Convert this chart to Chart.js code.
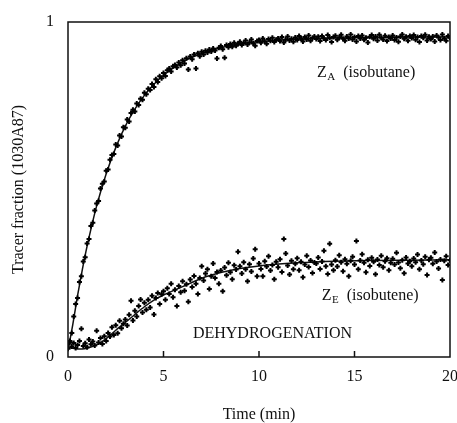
<!DOCTYPE html>
<html>
<head>
<meta charset="utf-8">
<script src="https://cdn.jsdelivr.net/npm/chart.js@4.4.0/dist/chart.umd.min.js"></script>
<style>
  body { margin: 0; background: #fff; }
</style>
</head>
<body>
<canvas id="chart" width="457" height="423"></canvas>
<script>
// sample times (min)
const time = [
  0, 0.1, 0.2, 0.3, 0.4, 0.5, 0.6, 0.7, 0.8, 0.9,
  1, 1.1, 1.2, 1.3, 1.4, 1.5, 1.6, 1.7, 1.8, 1.9,
  2, 2.1, 2.2, 2.3, 2.4, 2.5, 2.6, 2.7, 2.8, 2.9,
  3, 3.1, 3.2, 3.3, 3.4, 3.5, 3.6, 3.7, 3.8, 3.9,
  4, 4.1, 4.2, 4.3, 4.4, 4.5, 4.6, 4.7, 4.8, 4.9,
  5, 5.1, 5.2, 5.3, 5.4, 5.5, 5.6, 5.7, 5.8, 5.9,
  6, 6.1, 6.2, 6.3, 6.4, 6.5, 6.6, 6.7, 6.8, 6.9,
  7, 7.1, 7.2, 7.3, 7.4, 7.5, 7.6, 7.7, 7.8, 7.9,
  8, 8.1, 8.2, 8.3, 8.4, 8.5, 8.6, 8.7, 8.8, 8.9,
  9, 9.1, 9.2, 9.3, 9.4, 9.5, 9.6, 9.7, 9.8, 9.9,
  10, 10.1, 10.2, 10.3, 10.4, 10.5, 10.6, 10.7, 10.8, 10.9,
  11, 11.1, 11.2, 11.3, 11.4, 11.5, 11.6, 11.7, 11.8, 11.9,
  12, 12.1, 12.2, 12.3, 12.4, 12.5, 12.6, 12.7, 12.8, 12.9,
  13, 13.1, 13.2, 13.3, 13.4, 13.5, 13.6, 13.7, 13.8, 13.9,
  14, 14.1, 14.2, 14.3, 14.4, 14.5, 14.6, 14.7, 14.8, 14.9,
  15, 15.1, 15.2, 15.3, 15.4, 15.5, 15.6, 15.7, 15.8, 15.9,
  16, 16.1, 16.2, 16.3, 16.4, 16.5, 16.6, 16.7, 16.8, 16.9,
  17, 17.1, 17.2, 17.3, 17.4, 17.5, 17.6, 17.7, 17.8, 17.9,
  18, 18.1, 18.2, 18.3, 18.4, 18.5, 18.6, 18.7, 18.8, 18.9,
  19, 19.1, 19.2, 19.3, 19.4, 19.5, 19.6, 19.7, 19.8, 19.9,
  20
];

// Z_A (isobutane) measured points
const zaPoints = [
  0.025, 0.048, 0.072, 0.121, 0.158, 0.176, 0.224, 0.241, 0.285, 0.298,
  0.339, 0.352, 0.391, 0.401, 0.437, 0.458, 0.466, 0.503, 0.517, 0.524,
  0.556, 0.560, 0.589, 0.603, 0.606, 0.634, 0.631, 0.661, 0.658, 0.686,
  0.684, 0.709, 0.703, 0.728, 0.738, 0.733, 0.757, 0.752, 0.771, 0.768,
  0.789, 0.784, 0.801, 0.797, 0.815, 0.806, 0.829, 0.821, 0.838, 0.832,
  0.848, 0.839, 0.856, 0.861, 0.852, 0.868, 0.872, 0.864, 0.879, 0.871,
  0.886, 0.876, 0.892, 0.858, 0.897, 0.889, 0.903, 0.861, 0.907, 0.898,
  0.911, 0.903, 0.914, 0.909, 0.918, 0.912, 0.921, 0.915, 0.891, 0.923,
  0.928, 0.919, 0.893, 0.931, 0.925, 0.934, 0.926, 0.938, 0.929, 0.935,
  0.941, 0.931, 0.937, 0.945, 0.933, 0.939, 0.948, 0.936, 0.929, 0.943,
  0.946, 0.938, 0.951, 0.942, 0.935, 0.949, 0.944, 0.953, 0.940, 0.947,
  0.951, 0.943, 0.955, 0.939, 0.948, 0.957, 0.945, 0.950, 0.941, 0.954,
  0.946, 0.958, 0.951, 0.942, 0.955, 0.948, 0.960, 0.944, 0.952, 0.957,
  0.949, 0.956, 0.943, 0.958, 0.951, 0.946, 0.961, 0.953, 0.940, 0.955,
  0.959, 0.947, 0.954, 0.962, 0.950, 0.944, 0.957, 0.951, 0.963, 0.948,
  0.955, 0.942, 0.958, 0.951, 0.960, 0.947, 0.953, 0.939, 0.956, 0.961,
  0.950, 0.957, 0.945, 0.962, 0.953, 0.948, 0.959, 0.943, 0.955, 0.951,
  0.960, 0.946, 0.954, 0.941, 0.957, 0.963, 0.950, 0.956, 0.944, 0.958,
  0.952, 0.961, 0.947, 0.955, 0.940, 0.958, 0.953, 0.962, 0.945, 0.956,
  0.949, 0.957, 0.942, 0.960, 0.954, 0.946, 0.963, 0.951, 0.944, 0.958,
  0.953
];

// Z_E (isobutene) measured points
const zePoints = [
  0.038, 0.045, 0.031, 0.042, 0.027, 0.036, 0.048, 0.084, 0.033, 0.041,
  0.029, 0.052, 0.038, 0.046, 0.034, 0.078, 0.043, 0.057, 0.039, 0.062,
  0.048, 0.072, 0.061, 0.089, 0.066, 0.095, 0.071, 0.108, 0.086, 0.099,
  0.112, 0.094, 0.126, 0.168, 0.109, 0.138, 0.121, 0.152, 0.172, 0.133,
  0.162, 0.141, 0.171, 0.148, 0.183, 0.127, 0.176, 0.191, 0.158, 0.187,
  0.196, 0.171, 0.205, 0.188, 0.219, 0.178, 0.201, 0.152, 0.212, 0.193,
  0.226, 0.198, 0.217, 0.165, 0.231, 0.209, 0.242, 0.219, 0.188, 0.236,
  0.271, 0.228, 0.249, 0.262, 0.203, 0.241, 0.279, 0.236, 0.254, 0.219,
  0.258, 0.196, 0.267, 0.244, 0.281, 0.253, 0.232, 0.274, 0.261, 0.314,
  0.271, 0.249, 0.283, 0.262, 0.226, 0.277, 0.255, 0.294, 0.322, 0.241,
  0.279, 0.263, 0.241, 0.286, 0.270, 0.301, 0.258, 0.275, 0.232, 0.284,
  0.268, 0.292, 0.254, 0.352, 0.309, 0.273, 0.246, 0.287, 0.262, 0.278,
  0.295, 0.259, 0.284, 0.238, 0.276, 0.302, 0.269, 0.288, 0.251, 0.282,
  0.279, 0.297, 0.263, 0.285, 0.317, 0.271, 0.248, 0.338, 0.276, 0.259,
  0.289, 0.270, 0.304, 0.283, 0.256, 0.292, 0.278, 0.241, 0.287, 0.299,
  0.276, 0.346, 0.262, 0.288, 0.307, 0.281, 0.253, 0.290, 0.272, 0.296,
  0.284, 0.247, 0.291, 0.275, 0.302, 0.268, 0.286, 0.295, 0.259, 0.281,
  0.293, 0.276, 0.311, 0.282, 0.265, 0.289, 0.250, 0.297, 0.279, 0.286,
  0.271, 0.294, 0.283, 0.306, 0.262, 0.288, 0.277, 0.299, 0.245, 0.290,
  0.296, 0.278, 0.312, 0.285, 0.264, 0.291, 0.230, 0.287, 0.301, 0.275,
  0.289
];

// fitted model curves
const fitTime = [0, 0.25, 0.5, 0.75, 1, 1.5, 2, 2.5, 3, 3.5, 4, 4.5, 5, 6, 7, 8, 9, 10, 12, 14, 16, 18, 20];
const zaFit = [0.02, 0.097, 0.183, 0.261, 0.331, 0.451, 0.547, 0.625, 0.689, 0.740, 0.781, 0.814, 0.841, 0.881, 0.906, 0.923, 0.934, 0.941, 0.949, 0.952, 0.954, 0.955, 0.955];
const zeFit = [0.03, 0.026, 0.024, 0.024, 0.026, 0.036, 0.055, 0.08, 0.103, 0.127, 0.15, 0.17, 0.185, 0.21, 0.235, 0.252, 0.264, 0.272, 0.281, 0.286, 0.288, 0.289, 0.29];

const xInnerTicks = [5, 10, 15];

// text placed in the plot (data coords of the baseline start)
const notes = [
  { main: 'Z', sub: 'A', rest: '(isobutane)', x: 13.04, y: 0.836 },
  { main: 'Z', sub: 'E', rest: '(isobutene)', x: 13.28, y: 0.170 },
  { main: 'DEHYDROGENATION', sub: '', rest: '', x: 6.54, y: 0.058 }
];

const serif = '"Liberation Serif", "Times New Roman", serif';

const toXY = (xs, ys) => xs.map((t, i) => ({ x: t, y: ys[i] }));

const framePlugin = {
  id: 'frame',
  afterDatasetsDraw(chart) {
    const { ctx, chartArea: a, scales: { x, y } } = chart;
    ctx.save();
    ctx.strokeStyle = '#111';
    ctx.lineWidth = 1.5;
    ctx.strokeRect(a.left, a.top, a.right - a.left, a.bottom - a.top);
    xInnerTicks.forEach(v => {
      const px = x.getPixelForValue(v);
      ctx.beginPath();
      ctx.moveTo(px, a.bottom);
      ctx.lineTo(px, a.bottom - 6);
      ctx.stroke();
    });
    ctx.fillStyle = '#111';
    ctx.textBaseline = 'alphabetic';
    notes.forEach(n => {
      let px = x.getPixelForValue(n.x);
      const py = y.getPixelForValue(n.y);
      ctx.font = '16px ' + serif;
      ctx.fillText(n.main, px, py);
      px += ctx.measureText(n.main).width + 0.5;
      if (n.sub) {
        ctx.font = '11px ' + serif;
        ctx.fillText(n.sub, px, py + 3);
        px += ctx.measureText(n.sub).width + 8;
        ctx.font = '16px ' + serif;
        ctx.fillText(n.rest, px, py);
      }
    });
    ctx.restore();
  }
};

new Chart(document.getElementById('chart'), {
  type: 'scatter',
  data: {
    datasets: [
      {
        label: 'ZA points',
        data: toXY(time, zaPoints),
        pointStyle: 'cross',
        pointRadius: 2.5,
        borderWidth: 2,
        borderColor: '#000',
        backgroundColor: '#000'
      },
      {
        label: 'ZE points',
        data: toXY(time, zePoints),
        pointStyle: 'cross',
        pointRadius: 2.5,
        borderWidth: 2,
        borderColor: '#000',
        backgroundColor: '#000'
      },
      {
        label: 'ZA fit',
        data: toXY(fitTime, zaFit),
        showLine: true,
        pointRadius: 0,
        borderColor: '#111',
        borderWidth: 1.5,
        cubicInterpolationMode: 'monotone'
      },
      {
        label: 'ZE fit',
        data: toXY(fitTime, zeFit),
        showLine: true,
        pointRadius: 0,
        borderColor: '#111',
        borderWidth: 1.5,
        cubicInterpolationMode: 'monotone'
      }
    ]
  },
  options: {
    responsive: false,
    animation: false,
    layout: { padding: { left: 0, top: 22, right: 7, bottom: 0 } },
    plugins: { legend: { display: false }, tooltip: { enabled: false } },
    scales: {
      x: {
        type: 'linear',
        min: 0,
        max: 20,
        grid: { display: false, drawTicks: false },
        border: { display: false },
        ticks: { stepSize: 5, padding: 10, color: '#111', font: { family: serif, size: 16 }, maxRotation: 0 },
        title: { display: true, text: 'Time (min)', color: '#111', font: { family: serif, size: 16 }, padding: { top: 0, bottom: -1 } },
        afterFit(scale) {
          scale.height = 66;
          scale.paddingLeft = 0;
          scale.paddingRight = 0;
        }
      },
      y: {
        type: 'linear',
        min: 0,
        max: 1,
        grid: { display: false, drawTicks: false },
        border: { display: false },
        ticks: { stepSize: 1, padding: 14, color: '#111', font: { family: serif, size: 16 } },
        title: { display: true, text: 'Tracer fraction (1030A87)', color: '#111', font: { family: serif, size: 16 }, padding: { top: 9, bottom: 0 } },
        afterFit(scale) {
          scale.width = 68;
          scale.paddingTop = 0;
          scale.paddingBottom = 0;
        }
      }
    }
  },
  plugins: [framePlugin]
});
</script>
</body>
</html>
